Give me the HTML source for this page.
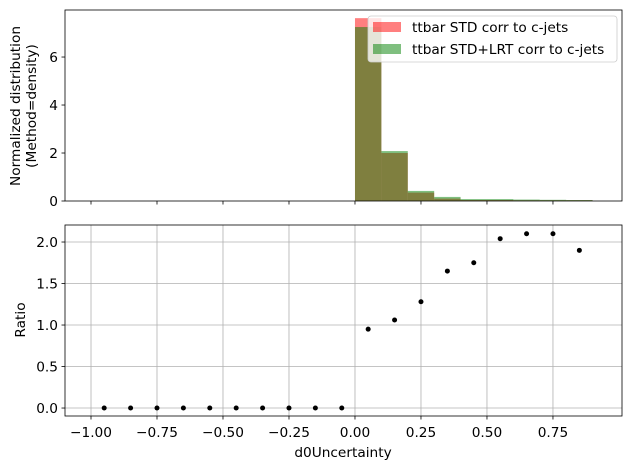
<!DOCTYPE html>
<html><head><meta charset="utf-8"><style>
body{margin:0;background:#fff;font-family:"Liberation Sans","DejaVu Sans",sans-serif;}
svg text{font-family:"DejaVu Sans","Liberation Sans",sans-serif;font-size:13.7px;fill:#000;}
</style></head><body>
<svg id="c" width="630" height="469" xmlns="http://www.w3.org/2000/svg"></svg>
<script>
const binEdges=[-1,-0.9,-0.8,-0.7,-0.6,-0.5,-0.4,-0.3,-0.2,-0.1,0,0.1,0.2,0.3,0.4,0.5,0.6,0.7,0.8,0.9];
const stdVals=[0,0,0,0,0,0,0,0,0,0,7.62,2.0,0.35,0.1,0.04,0.04,0.03,0.03,0.03];
const lrtVals=[0,0,0,0,0,0,0,0,0,0,7.25,2.08,0.42,0.17,0.08,0.08,0.06,0.05,0.04];
const ratioX=[-0.95,-0.85,-0.75,-0.65,-0.55,-0.45,-0.35,-0.25,-0.15,-0.05,0.05,0.15,0.25,0.35,0.45,0.55,0.65,0.75,0.85];
const ratioY=[0,0,0,0,0,0,0,0,0,0,0.95,1.06,1.28,1.65,1.75,2.04,2.1,2.1,1.9];
const xTicks=[-1.0,-0.75,-0.5,-0.25,0.0,0.25,0.5,0.75];
const xTickLabels=["−1.00","−0.75","−0.50","−0.25","0.00","0.25","0.50","0.75"];
const topTicks=[0,2,4,6];
const botTicks=[0,0.5,1.0,1.5,2.0];
const botTickLabels=["0.0","0.5","1.0","1.5","2.0"];

const NS="http://www.w3.org/2000/svg";
const svg=document.getElementById('c');
function mk(t,a,p){const e=document.createElementNS(NS,t);for(const k in a)e.setAttribute(k,a[k]);(p||svg).appendChild(e);return e;}
const L=65,R=622,T1=10,B1=201,T2=225,B2=416;
const xmin=-1.0985,xmax=1.0115;
const X=v=>L+(v-xmin)/(xmax-xmin)*(R-L);
const Y1=v=>B1-v/7.96*(B1-T1);
const Y2=v=>B2-(v+0.096)/(2.205+0.096)*(B2-T2);

for(let i=0;i<stdVals.length;i++){
  const x0=X(binEdges[i]),x1=X(binEdges[i+1]);
  let r=mk('rect',{x:x0,y:Y1(stdVals[i]),width:x1-x0,height:B1-Y1(stdVals[i]),fill:'rgba(255,0,0,0.5)'});
  
  
}
for(let i=0;i<lrtVals.length;i++){
  const x0=X(binEdges[i]),x1=X(binEdges[i+1]);
  let r=mk('rect',{x:x0,y:Y1(lrtVals[i]),width:x1-x0,height:B1-Y1(lrtVals[i]),fill:'rgba(0,128,0,0.5)'});
  
  
}
mk('rect',{x:L,y:T1,width:R-L,height:B1-T1,fill:'none',stroke:'#000','stroke-width':0.8});
topTicks.forEach(v=>{const y=Y1(v);mk('line',{x1:L-3.5,x2:L,y1:y,y2:y,stroke:'#000','stroke-width':0.8});
  let t=mk('text',{x:L-7,y:y+5,'text-anchor':'end'});t.textContent=v;
  
  });
xTicks.forEach(v=>{const x=X(v);mk('line',{x1:x,x2:x,y1:B1,y2:B1+3.5,stroke:'#000','stroke-width':0.8});});
let yl=mk('text',{transform:'translate(27,106) rotate(-90)','text-anchor':'middle'});

yl.innerHTML='<tspan x="0" dy="-7">Normalized distribution</tspan><tspan x="0" dy="16">(Method=density)</tspan>';

const lg=mk('g',{});
mk('rect',{x:368,y:16,width:249,height:46,rx:3,fill:'rgba(255,255,255,0.8)',stroke:'#ccc','stroke-width':0.8},lg);
mk('rect',{x:373,y:22,width:28,height:10,fill:'rgba(255,0,0,0.5)'},lg);
mk('rect',{x:373,y:44,width:28,height:10,fill:'rgba(0,128,0,0.5)'},lg);
let l1=mk('text',{x:412,y:32},lg);l1.textContent='ttbar STD corr to c-jets';
let l2=mk('text',{x:412,y:54},lg);l2.textContent='ttbar STD+LRT corr to c-jets';

xTicks.forEach(v=>{const x=X(v);mk('line',{x1:x,x2:x,y1:T2,y2:B2,stroke:'#b0b0b0','stroke-width':0.8});});
botTicks.forEach(v=>{const y=Y2(v);mk('line',{x1:L,x2:R,y1:y,y2:y,stroke:'#b0b0b0','stroke-width':0.8});});
mk('rect',{x:L,y:T2,width:R-L,height:B2-T2,fill:'none',stroke:'#000','stroke-width':0.8});
for(let i=0;i<ratioX.length;i++){
  let c=mk('circle',{cx:X(ratioX[i]),cy:Y2(ratioY[i]),r:2.5,fill:'#000'});
  
  
}
botTicks.forEach((v,i)=>{const y=Y2(v);mk('line',{x1:L-3.5,x2:L,y1:y,y2:y,stroke:'#000','stroke-width':0.8});
  let t=mk('text',{x:L-7,y:y+5,'text-anchor':'end'});t.textContent=botTickLabels[i];
  
  });
xTicks.forEach((v,i)=>{const x=X(v);mk('line',{x1:x,x2:x,y1:B2,y2:B2+3.5,stroke:'#000','stroke-width':0.8});
  let t=mk('text',{x:x,y:B2+21,'text-anchor':'middle'});t.textContent=xTickLabels[i];
  
  });
let rl=mk('text',{transform:'translate(25,320) rotate(-90)','text-anchor':'middle'});rl.textContent='Ratio';

let xl=mk('text',{x:343,y:457,'text-anchor':'middle'});xl.textContent='d0Uncertainty';

</script>
</body></html>
